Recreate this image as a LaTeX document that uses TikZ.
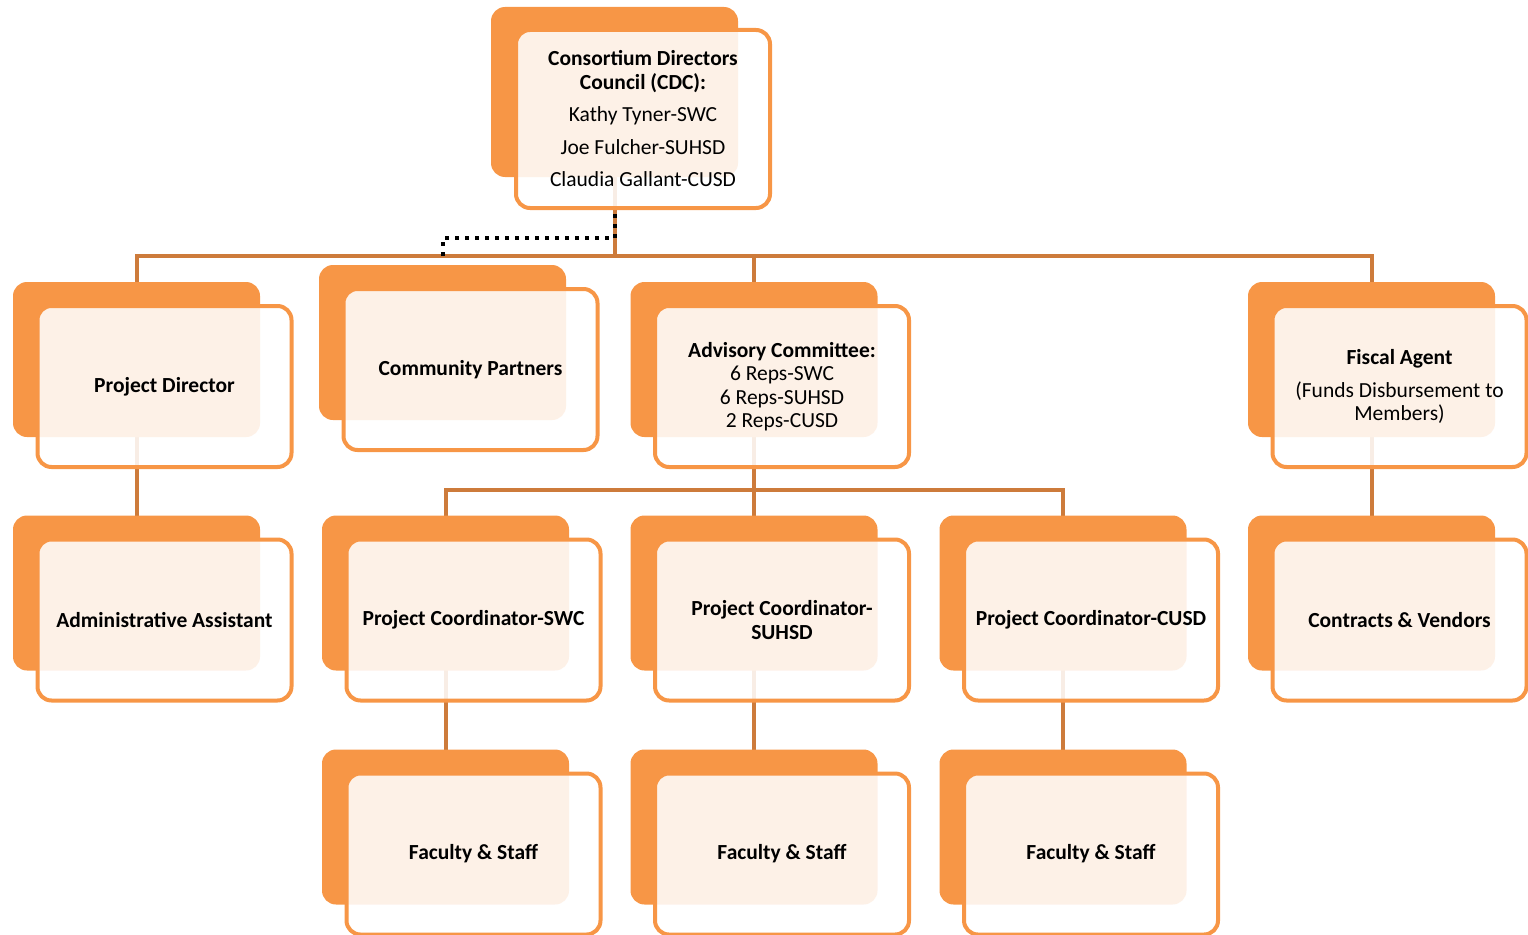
\documentclass[tikz,border=0pt]{standalone}
\usepackage{fontspec}
\setmainfont{Carlito}
\usetikzlibrary{backgrounds}
\definecolor{unitorange}{HTML}{F79646}
\definecolor{linkorange}{HTML}{CD7B3B}
\tikzset{
  backbox/.style={fill=unitorange, rounded corners=14pt, minimum width=247pt, minimum height=155pt, inner sep=0pt},
  frontbox/.style={draw=unitorange, line width=4pt, fill=white, fill opacity=0.87, text opacity=1, rounded corners=14pt,
    minimum width=254pt, minimum height=161pt, align=center, font=\fontsize{21.5}{23.5}\selectfont, inner sep=2pt},
  link/.style={draw=linkorange, line width=4pt},
  cdcdots/.style={line width=4pt, dash pattern=on 4pt off 6pt}
}
\begin{document}
\begin{tikzpicture}[x=1pt, y=-1pt]
\useasboundingbox (0,0) rectangle (1528,934);
% top council
\node[backbox, minimum height=170pt] (cdcb) at (614.5,92) {};
\node[frontbox, minimum width=254pt, minimum height=178pt] (cdc) at (643,119)
  {\textbf{Consortium Directors}\\\textbf{Council (CDC):}\\[9pt]Kathy Tyner-SWC\\[9pt]Joe Fulcher-SUHSD\\[9pt]Claudia Gallant-CUSD};
% first row
\node[backbox] (pdb) at (136.5,359.5) {};
\node[frontbox] (pd) at (164.5,386.5) {\textbf{Project Director}};
\node[backbox] (cpb) at (442.5,342.5) {};
\node[frontbox] (cp) at (470.5,369.5) {\textbf{Community Partners}};
\node[backbox] (acb) at (754,359.5) {};
\node[frontbox] (ac) at (782,386.5) {\textbf{Advisory Committee:}\\6 Reps-SWC\\6 Reps-SUHSD\\2 Reps-CUSD};
\node[backbox] (fab) at (1371.5,359.5) {};
\node[frontbox] (fa) at (1399.5,386.5) {\textbf{Fiscal Agent}\\[9pt](Funds Disbursement to\\Members)};
% second row
\node[backbox] (aab) at (136.5,593) {};
\node[frontbox] (aa) at (164.5,620) {\textbf{Administrative Assistant}};
\node[backbox] (swcb) at (445.5,593) {};
\node[frontbox] (swc) at (473.5,620) {\textbf{Project Coordinator-SWC}};
\node[backbox] (suhsdb) at (754,593) {};
\node[frontbox] (suhsd) at (782,620) {\textbf{Project Coordinator-}\\\textbf{SUHSD}};
\node[backbox] (cusdb) at (1063,593) {};
\node[frontbox] (cusd) at (1091,620) {\textbf{Project Coordinator-CUSD}};
\node[backbox] (cvb) at (1371.5,593) {};
\node[frontbox] (cv) at (1399.5,620) {\textbf{Contracts \& Vendors}};
% third row
\node[backbox] (fsab) at (445.5,827) {};
\node[frontbox] (fsa) at (473.5,854) {\textbf{Faculty \& Staff}};
\node[backbox] (fsbb) at (754,827) {};
\node[frontbox] (fsb) at (782,854) {\textbf{Faculty \& Staff}};
\node[backbox] (fscb) at (1063,827) {};
\node[frontbox] (fsc) at (1091,854) {\textbf{Faculty \& Staff}};
\coordinate (hbar) at (0,256); % main bar
\coordinate (acbar) at (0,490); % committee bar
\begin{scope}[on background layer]
\draw[link] (cdcb.center) -- (cdcb |- hbar);
\draw[link] (pdb.center) -- (pdb |- hbar) -- (fab |- hbar) -- (fab.center);
\draw[link] (acb.center) -- (acb |- hbar);
\draw[link] (pdb.center) -- (aab.center);
\draw[link] (fab.center) -- (cvb.center);
\draw[link] (swcb.center) -- (swcb |- acbar) -- (cusdb |- acbar) -- (cusdb.center);
\draw[link] (acb.center) -- (suhsdb.center);
\draw[link] (swcb.center) -- (fsab.center);
\draw[link] (suhsdb.center) -- (fsbb.center);
\draw[link] (cusdb.center) -- (fscb.center);
\end{scope}
\draw[cdcdots] ([yshift=-4pt]cdc.south -| cdcb) |- ([yshift=18pt]cpb |- hbar) -- (cpb |- hbar); % dotted link to partners
\end{tikzpicture}
\end{document}
